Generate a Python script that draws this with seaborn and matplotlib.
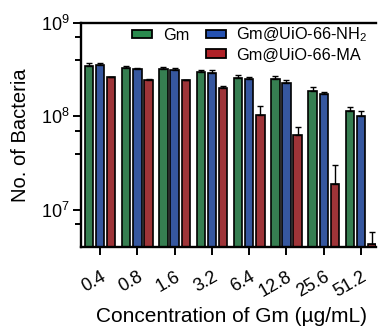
import numpy as np
import pandas as pd
import matplotlib
matplotlib.use("Agg")
import matplotlib.pyplot as plt
import matplotlib.ticker as mticker
from matplotlib.patches import Patch
import seaborn as sns

# values
concentrations = ["0.4", "0.8", "1.6", "3.2", "6.4", "12.8", "25.6", "51.2"]
groups = ["Gm", "Gm@UiO-66-NH$_2$", "Gm@UiO-66-MA"]
gm_mean = [3.47e8, 3.27e8, 3.19e8, 3.02e8, 2.60e8, 2.50e8, 1.87e8, 1.15e8]
gm_err = [0.25e8, 0.23e8, 0.20e8, 0.12e8, 0.18e8, 0.20e8, 0.21e8, 0.12e8]
nh2_mean = [3.52e8, 3.24e8, 3.12e8, 2.94e8, 2.54e8, 2.30e8, 1.75e8, 1.00e8]
nh2_err = [0.20e8, 0.06e8, 0.18e8, 0.20e8, 0.12e8, 0.16e8, 0.07e8, 0.15e8]
ma_mean = [2.64e8, 2.48e8, 2.44e8, 2.00e8, 1.03e8, 6.4e7, 1.88e7, 4.3e6]
ma_err = [0.03e8, 0.03e8, 0.03e8, 0.12e8, 0.26e8, 1.25e7, 1.12e7, 1.45e6]
colors = ["#2a8a4e", "#2551b0", "#b02228"]

means = [gm_mean, nh2_mean, ma_mean]
errs = [gm_err, nh2_err, ma_err]

data = pd.DataFrame({
    "conc": concentrations * 3,
    "group": np.repeat(groups, len(concentrations)),
    "value": gm_mean + nh2_mean + ma_mean,
})

sns.set_style("ticks")
plt.rcParams["font.family"] = ["Liberation Sans", "DejaVu Sans"]
plt.rcParams["mathtext.fontset"] = "custom"
plt.rcParams["mathtext.rm"] = "Liberation Sans"
plt.rcParams["mathtext.it"] = "Liberation Sans:italic"
plt.rcParams["text.color"] = "black"
plt.rcParams["axes.labelcolor"] = "black"
plt.rcParams["xtick.color"] = "black"
plt.rcParams["ytick.color"] = "black"

fig = plt.figure(figsize=(3.79, 3.28), dpi=100)
ax = fig.add_axes([81 / 379, 1 - 247 / 328, 295 / 379, 224 / 328])

sns.barplot(data=data, x="conc", y="value", hue="group", hue_order=groups,
            palette=colors, width=0.9, gap=0.25, errorbar=None,
            edgecolor="black", linewidth=1.2, legend=False, ax=ax,
            log_scale=(False, True))

for cont, m, e in zip(ax.containers, means, errs):
    xs = [p.get_x() + p.get_width() / 2 for p in cont.patches]
    ax.errorbar(xs, m, yerr=[np.zeros(len(e)), e], fmt="none",
                ecolor="black", elinewidth=1.0, capsize=2.5, capthick=1.0)

ax.set_yscale("log")
ax.set_ylim(4e6, 1e9)
ax.set_xlim(-0.51, 7.40)
ax.yaxis.set_major_locator(mticker.FixedLocator([1e7, 1e8, 1e9]))
ax.yaxis.set_major_formatter(mticker.FixedFormatter(["$10^7$", "$10^8$", "$10^9$"]))
ax.yaxis.set_minor_locator(mticker.FixedLocator([7e6, 4e7, 7e7, 4e8, 7e8]))
ax.yaxis.set_minor_formatter(mticker.NullFormatter())

for side in ["left", "bottom", "top"]:
    ax.spines[side].set_linewidth(1.7)
    ax.spines[side].set_color("black")
ax.spines["right"].set_visible(False)

ax.tick_params(axis="y", which="major", length=6, width=1.4, labelsize=13, pad=2)
ax.tick_params(axis="y", which="minor", length=4, width=1.4)
ax.tick_params(axis="x", length=6, width=1.4, labelsize=13, pad=9)
plt.setp(ax.get_xticklabels(), rotation=30, ha="right", rotation_mode="anchor")

ax.set_xlabel("")
fig.text(231 / 379, 1 - 316 / 328, "Concentration of Gm (µg/mL)", fontsize=15,
         ha="center", va="center")
ax.set_ylabel("No. of Bacteria", fontsize=14.5, labelpad=8)

blank = Patch(facecolor="none", edgecolor="none")
handles = [Patch(facecolor=colors[0], edgecolor="black", linewidth=1.3), blank,
           Patch(facecolor=colors[1], edgecolor="black", linewidth=1.3),
           Patch(facecolor=colors[2], edgecolor="black", linewidth=1.3)]
labels = [groups[0], "", groups[1], groups[2]]
ax.legend(handles, labels, ncol=2, frameon=False, fontsize=11.7,
          loc="upper left", bbox_to_anchor=(132 / 379, 1 - 26 / 328),
          bbox_transform=fig.transFigure, handlelength=1.25, handleheight=0.45,
          handletextpad=0.65, columnspacing=1.0, labelspacing=0.2,
          borderaxespad=0, borderpad=0)

fig.savefig("out.png", dpi=100)
